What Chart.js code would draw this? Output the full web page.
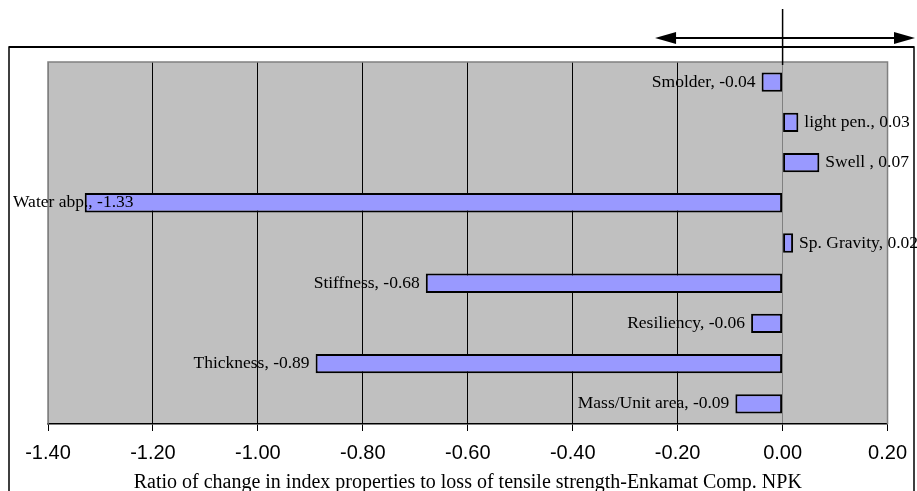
<!DOCTYPE html>
<html>
<head>
<meta charset="utf-8">
<title>Enkamat Comp. NPK</title>
<script src="https://cdn.jsdelivr.net/npm/chart.js@4.4.1/dist/chart.umd.min.js"></script>
<style>
  html, body { margin: 0; padding: 0; background: #ffffff; }
  #wrap { width: 917px; height: 491px; }
</style>
</head>
<body>
<div id="wrap"><canvas id="chart" width="917" height="491"></canvas></div>
<script>
// Index properties, listed top to bottom
const properties = [
  'Smolder', 'light pen.', 'Swell ', 'Water abp.', 'Sp. Gravity',
  'Stiffness', 'Resiliency', 'Thickness', 'Mass/Unit area'
];
// Ratio of change in each property to loss of tensile strength
const ratios = [-0.04, 0.03, 0.07, -1.33, 0.02, -0.68, -0.06, -0.89, -0.09];
// Horizontal axis ticks
const tickValues = [-1.4, -1.2, -1.0, -0.8, -0.6, -0.4, -0.2, 0.0, 0.2];
const tickLabels = ['-1.40', '-1.20', '-1.00', '-0.80', '-0.60', '-0.40', '-0.20', '0.00', '0.20'];
const axisTitle = 'Ratio of change in index properties to loss of tensile strength-Enkamat Comp. NPK';

// Grey plot panel with its outline
const panelPlugin = {
  id: 'panel',
  beforeDraw(chart) {
    const { ctx, chartArea: a } = chart;
    ctx.save();
    ctx.fillStyle = '#c0c0c0';
    ctx.fillRect(a.left, a.top, a.right - a.left, a.bottom - a.top);
    ctx.restore();
  },
  beforeDatasetsDraw(chart) {
    const { ctx, chartArea: a } = chart;
    ctx.save();
    ctx.strokeStyle = '#808080';
    ctx.lineWidth = 1.5;
    ctx.beginPath();
    ctx.moveTo(a.left, a.bottom);
    ctx.lineTo(a.left, a.top);
    ctx.lineTo(a.right, a.top);
    ctx.lineTo(a.right, a.bottom);
    ctx.stroke();
    ctx.restore();
  }
};

// "Name, value" labels at the outer end of each bar
const barLabelPlugin = {
  id: 'barLabels',
  afterDatasetsDraw(chart) {
    const { ctx } = chart;
    const meta = chart.getDatasetMeta(0);
    ctx.save();
    ctx.font = '17.5px "Liberation Serif", "Times New Roman", serif';
    ctx.fillStyle = '#000';
    ctx.textBaseline = 'middle';
    ctx.textAlign = 'left';
    meta.data.forEach((bar, i) => {
      const v = ratios[i];
      const text = properties[i] + ', ' + v.toFixed(2);
      const w = ctx.measureText(text).width;
      if (v < 0) {
        let x = bar.x - 6 - w;
        if (x < 13) x = 13;
        ctx.fillText(text, x, bar.y);
      } else {
        ctx.fillText(text, bar.x + 6, bar.y);
      }
    });
    ctx.restore();
  }
};

// Outer frame plus the direction arrow above the zero line
const framePlugin = {
  id: 'frame',
  afterDraw(chart) {
    const { ctx } = chart;
    const xs = chart.scales.x;
    const x0 = xs.getPixelForValue(0);
    const xl = xs.getPixelForValue(-0.243);
    const W = chart.width;
    ctx.save();
    ctx.strokeStyle = '#000';
    // frame
    ctx.lineWidth = 1.5;
    ctx.beginPath();
    ctx.moveTo(9, chart.height + 5);
    ctx.lineTo(9, 47);
    ctx.lineTo(914, 47);
    ctx.lineTo(914, chart.height + 5);
    ctx.stroke();
    ctx.lineWidth = 2;
    ctx.beginPath();
    ctx.moveTo(9, 47);
    ctx.lineTo(914, 47);
    ctx.stroke();
    // vertical marker at zero
    ctx.lineWidth = 1.5;
    ctx.beginPath();
    ctx.moveTo(x0, 9);
    ctx.lineTo(x0, 65);
    ctx.stroke();
    // double-headed arrow
    const ay = 38, head = 21, hh = 6;
    const xr = W - 2;
    ctx.lineWidth = 2;
    ctx.beginPath();
    ctx.moveTo(xl + head - 2, ay);
    ctx.lineTo(xr - head + 2, ay);
    ctx.stroke();
    ctx.fillStyle = '#000';
    ctx.beginPath();
    ctx.moveTo(xl, ay);
    ctx.lineTo(xl + head, ay - hh);
    ctx.lineTo(xl + head, ay + hh);
    ctx.closePath();
    ctx.fill();
    ctx.beginPath();
    ctx.moveTo(xr, ay);
    ctx.lineTo(xr - head, ay - hh);
    ctx.lineTo(xr - head, ay + hh);
    ctx.closePath();
    ctx.fill();
    ctx.restore();
  }
};

new Chart(document.getElementById('chart'), {
  type: 'bar',
  data: {
    labels: properties,
    datasets: [{
      data: ratios,
      backgroundColor: '#9999ff',
      borderColor: '#000000',
      borderWidth: 2,
      borderSkipped: false,
      barPercentage: 0.48,
      categoryPercentage: 1.0
    }]
  },
  options: {
    indexAxis: 'y',
    responsive: false,
    animation: false,
    events: [],
    layout: { padding: { left: 48, right: 29, top: 62, bottom: 0 } },
    plugins: {
      legend: { display: false },
      tooltip: { enabled: false }
    },
    scales: {
      y: { display: false },
      x: {
        min: tickValues[0],
        max: tickValues[tickValues.length - 1],
        afterBuildTicks(scale) {
          scale.ticks = tickValues.map(v => ({ value: v }));
        },
        afterFit(scale) { scale.height = 67; },
        grid: {
          color(ctx) {
            const i = ctx.index;
            if (i === 0 || i === tickValues.length - 1 || Math.abs(ctx.tick.value) < 1e-9) return '#808080';
            return '#000000';
          },
          lineWidth: 1,
          tickColor: '#000000',
          tickLength: 7
        },
        border: { color: '#000000', width: 1.5 },
        ticks: {
          autoSkip: false,
          maxRotation: 0,
          padding: 10,
          color: '#000',
          font: { family: '"Liberation Sans", Arial, sans-serif', size: 20 },
          callback(value, index) { return tickLabels[index]; }
        },
        title: {
          display: true,
          text: axisTitle,
          color: '#000',
          padding: 0,
          font: { family: '"Liberation Serif", "Times New Roman", serif', size: 20, lineHeight: 0.8 }
        }
      }
    }
  },
  plugins: [panelPlugin, barLabelPlugin, framePlugin]
});
</script>
</body>
</html>
